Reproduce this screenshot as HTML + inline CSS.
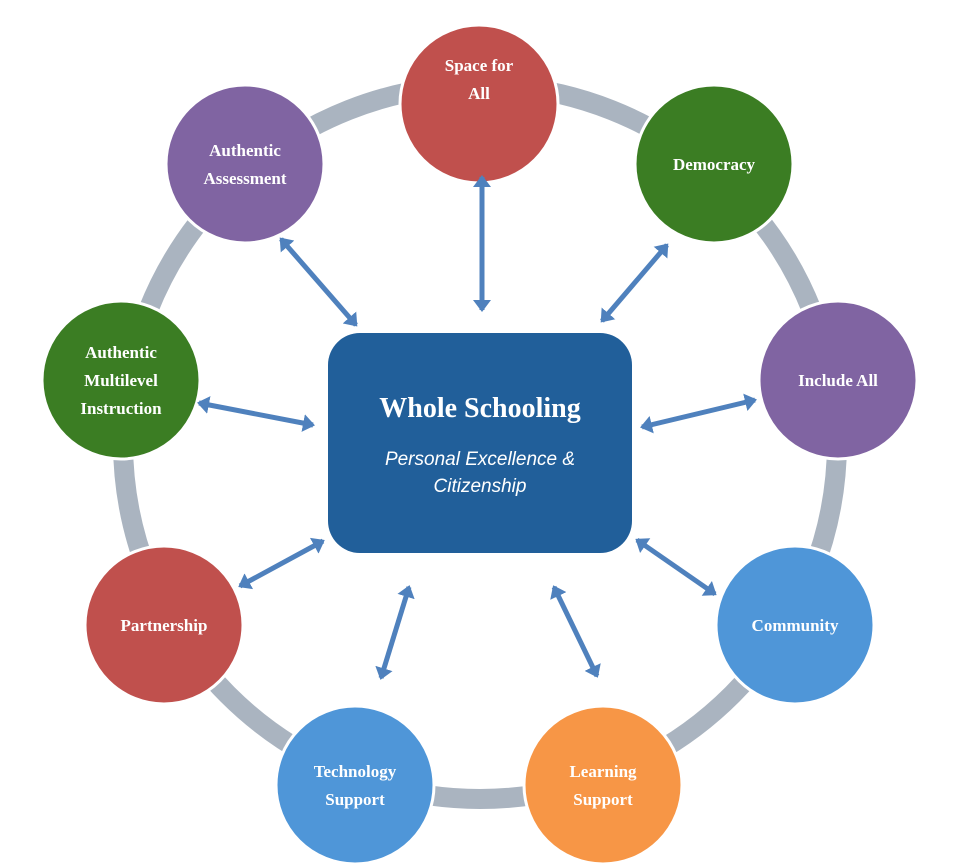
<!DOCTYPE html>
<html><head><meta charset="utf-8"><style>
html,body{margin:0;padding:0;background:#fff;}
svg{display:block}
.t{font-family:"Liberation Serif",serif;font-weight:bold;fill:#fff;font-size:17px;text-anchor:middle}
</style></head><body>
<svg width="968" height="864" viewBox="0 0 968 864" xmlns="http://www.w3.org/2000/svg">
<defs>
<marker id="a" markerUnits="userSpaceOnUse" markerWidth="12" markerHeight="18" refX="10" refY="9" orient="auto-start-reverse" viewBox="0 0 12 18">
<path d="M0,0 L12,9 L0,18 Z" fill="#4f81bd"/>
</marker>
</defs>
<circle cx="480" cy="442" r="357" fill="none" stroke="#aab4c0" stroke-width="20"/>
<rect x="328" y="333" width="304" height="220" rx="32" fill="#215f9a"/>
<text x="480" y="417" font-family="Liberation Serif,serif" font-weight="bold" font-size="28" fill="#fff" text-anchor="middle">Whole Schooling</text>
<text x="480" y="465" font-family="Liberation Sans,sans-serif" font-style="italic" font-size="19" fill="#fff" text-anchor="middle">Personal Excellence &amp;</text>
<text x="480" y="492" font-family="Liberation Sans,sans-serif" font-style="italic" font-size="19" fill="#fff" text-anchor="middle">Citizenship</text>
<g stroke="#fff" stroke-width="3">
<circle cx="479" cy="104" r="79" fill="#c0504d"/>
<circle cx="714" cy="164" r="79" fill="#3b7d23"/>
<circle cx="838" cy="380" r="79" fill="#8064a2"/>
<circle cx="795" cy="625" r="79" fill="#4f96d8"/>
<circle cx="603" cy="785" r="79" fill="#f79646"/>
<circle cx="355" cy="785" r="79" fill="#4f96d8"/>
<circle cx="164" cy="625" r="79" fill="#c0504d"/>
<circle cx="121" cy="380" r="79" fill="#3b7d23"/>
<circle cx="245" cy="164" r="79" fill="#8064a2"/>
</g>
<g stroke="#4f81bd" stroke-width="5" marker-start="url(#a)" marker-end="url(#a)">
<line x1="482" y1="177" x2="482" y2="310"/>
<line x1="667" y1="245" x2="602" y2="321"/>
<line x1="755" y1="400" x2="642" y2="427"/>
<line x1="715" y1="594" x2="637" y2="540"/>
<line x1="554" y1="587" x2="597" y2="676"/>
<line x1="409" y1="587" x2="381" y2="678"/>
<line x1="323" y1="541" x2="240" y2="586"/>
<line x1="199" y1="403" x2="313" y2="425"/>
<line x1="281" y1="239" x2="356" y2="325"/>
</g>
<text class="t" x="479" y="71">Space for</text><text class="t" x="479" y="99">All</text>
<text class="t" x="714" y="170">Democracy</text>
<text class="t" x="838" y="386">Include All</text>
<text class="t" x="795" y="631">Community</text>
<text class="t" x="603" y="777">Learning</text><text class="t" x="603" y="805">Support</text>
<text class="t" x="355" y="777">Technology</text><text class="t" x="355" y="805">Support</text>
<text class="t" x="164" y="631">Partnership</text>
<text class="t" x="121" y="358">Authentic</text><text class="t" x="121" y="386">Multilevel</text><text class="t" x="121" y="414">Instruction</text>
<text class="t" x="245" y="156">Authentic</text><text class="t" x="245" y="184">Assessment</text>
</svg>
</body></html>
